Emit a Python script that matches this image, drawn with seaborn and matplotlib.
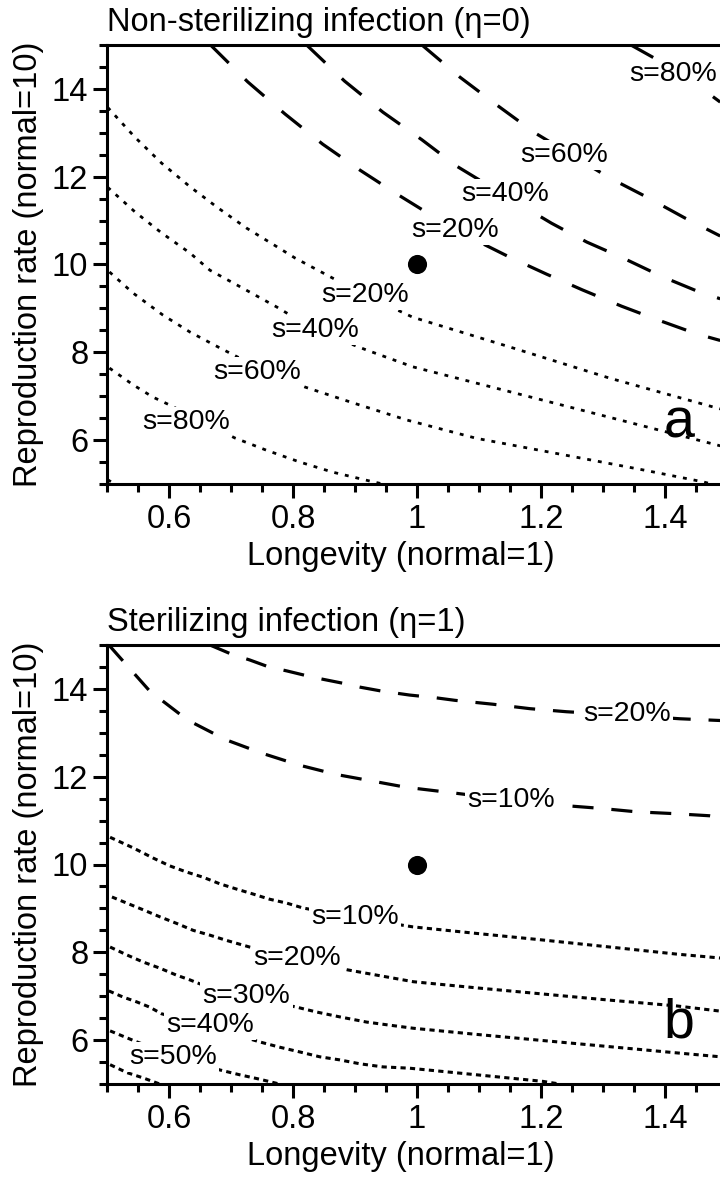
import matplotlib
matplotlib.use("Agg")
import matplotlib.pyplot as plt
import seaborn as sns
from matplotlib.ticker import FixedLocator, MultipleLocator

# ---------------- data ----------------
# Panel a: Non-sterilizing infection (eta=0)
a_dash20_x = [0.667, 0.727, 0.787, 0.848, 0.908, 0.967, 1.061, 1.149, 1.209, 1.267, 1.330, 1.388, 1.451, 1.489]
a_dash20_y = [15.00, 14.16, 13.43, 12.74, 12.15, 11.61, 10.79, 10.17, 9.78, 9.42, 9.05, 8.74, 8.42, 8.27]
a_dash40_x = [0.822, 0.883, 0.945, 1.008, 1.064, 1.141, 1.217, 1.274, 1.332, 1.396, 1.456, 1.489]
a_dash40_y = [15.00, 14.18, 13.47, 12.84, 12.24, 11.58, 10.94, 10.51, 10.15, 9.72, 9.37, 9.22]
a_dash60_x = [1.008, 1.069, 1.129, 1.190, 1.237, 1.311, 1.370, 1.432, 1.489]
a_dash60_y = [15.00, 14.27, 13.63, 13.00, 12.60, 11.97, 11.54, 11.06, 10.65]
a_dash80_x = [1.345, 1.383, 1.413, 1.469, 1.489]
a_dash80_y = [15.00, 14.70, 14.38, 13.91, 13.70]

a_dot20_x = [0.501, 0.545, 0.588, 0.634, 0.679, 0.725, 0.770, 0.803, 0.864, 0.916, 0.993, 1.150, 1.311, 1.489]
a_dot20_y = [13.58, 12.90, 12.31, 11.77, 11.29, 10.83, 10.44, 10.15, 9.69, 9.31, 8.80, 8.12, 7.41, 6.71]
a_dot40_x = [0.501, 0.545, 0.588, 0.634, 0.666, 0.719, 0.774, 0.835, 0.919, 0.993, 1.258, 1.489]
a_dot40_y = [11.76, 11.20, 10.72, 10.26, 9.87, 9.46, 9.03, 8.51, 8.05, 7.67, 6.71, 5.87]
a_dot60_x = [0.504, 0.542, 0.590, 0.634, 0.682, 0.711, 0.742, 0.819, 0.892, 0.983, 1.096, 1.257, 1.365, 1.461, 1.475]
a_dot60_y = [9.83, 9.35, 8.85, 8.46, 8.10, 7.89, 7.69, 7.21, 6.87, 6.46, 6.04, 5.61, 5.32, 5.05, 5.00]
a_dot80_x = [0.504, 0.542, 0.574, 0.601, 0.627, 0.706, 0.757, 0.811, 0.864, 0.929, 0.945]
a_dot80_y = [7.64, 7.26, 6.98, 6.80, 6.61, 6.05, 5.77, 5.50, 5.27, 5.05, 5.00]
a_dot100_x = [0.501, 0.514]
a_dot100_y = [5.10, 4.98]

a_dash_labels = ["s=20%", "s=40%", "s=60%", "s=80%"]
a_dash_lab_x = [1.061, 1.142, 1.237, 1.413]
a_dash_lab_y = [10.79, 11.61, 12.49, 14.34]
a_dot_labels = ["s=20%", "s=40%", "s=60%", "s=80%"]
a_dot_lab_x = [0.916, 0.835, 0.742, 0.627]
a_dot_lab_y = [9.31, 8.51, 7.55, 6.41]

# Panel b: Sterilizing infection (eta=1)
b_dash10_x = [0.503, 0.518, 0.569, 0.630, 0.692, 0.751, 0.811, 0.870, 0.932, 0.982, 1.053, 1.151, 1.240, 1.295, 1.354, 1.413, 1.472, 1.489]
b_dash10_y = [15.00, 14.76, 13.95, 13.29, 12.84, 12.53, 12.26, 12.05, 11.89, 11.76, 11.64, 11.47, 11.34, 11.28, 11.20, 11.16, 11.11, 11.07]
b_dash20_x = [0.666, 0.701, 0.730, 0.761, 0.790, 0.822, 0.848, 0.880, 0.908, 0.943, 0.988, 1.029, 1.061, 1.123, 1.182, 1.241, 1.338, 1.424, 1.489]
b_dash20_y = [15.00, 14.79, 14.66, 14.50, 14.41, 14.30, 14.22, 14.13, 14.04, 13.95, 13.86, 13.80, 13.74, 13.65, 13.55, 13.48, 13.40, 13.32, 13.28]

b_dot10_x = [0.505, 0.542, 0.574, 0.601, 0.628, 0.655, 0.682, 0.709, 0.735, 0.762, 0.790, 0.816, 0.900, 0.993, 1.096, 1.203, 1.311, 1.418, 1.489]
b_dot10_y = [10.62, 10.38, 10.15, 9.97, 9.83, 9.71, 9.56, 9.44, 9.33, 9.21, 9.12, 9.01, 8.79, 8.58, 8.43, 8.28, 8.12, 7.96, 7.87]
b_dot20_x = [0.508, 0.532, 0.558, 0.585, 0.612, 0.639, 0.666, 0.693, 0.730, 0.806, 0.888, 0.935, 0.994, 1.096, 1.203, 1.311, 1.418, 1.489]
b_dot20_y = [9.26, 9.12, 8.97, 8.81, 8.66, 8.50, 8.39, 8.27, 8.12, 7.87, 7.60, 7.48, 7.33, 7.19, 7.05, 6.91, 6.78, 6.66]
b_dot30_x = [0.505, 0.532, 0.558, 0.585, 0.612, 0.634, 0.650, 0.725, 0.806, 0.838, 0.875, 0.919, 0.956, 0.994, 1.096, 1.203, 1.311, 1.418, 1.489]
b_dot30_y = [8.12, 7.94, 7.78, 7.64, 7.48, 7.37, 7.28, 7.00, 6.75, 6.64, 6.53, 6.41, 6.34, 6.27, 6.13, 5.99, 5.85, 5.71, 5.62]
b_dot40_x = [0.503, 0.526, 0.548, 0.569, 0.588, 0.666, 0.746, 0.778, 0.811, 0.843, 0.875, 0.908, 0.945, 0.988, 1.096, 1.203, 1.230]
b_dot40_y = [7.12, 6.98, 6.87, 6.75, 6.60, 6.30, 5.96, 5.84, 5.73, 5.62, 5.55, 5.46, 5.39, 5.36, 5.21, 5.06, 5.00]
b_dot50_x = [0.505, 0.529, 0.548, 0.606, 0.682, 0.714, 0.746, 0.778]
b_dot50_y = [6.21, 6.07, 5.96, 5.65, 5.32, 5.21, 5.11, 5.00]
b_dot60_x = [0.505, 0.532, 0.558, 0.585]
b_dot60_y = [5.44, 5.26, 5.14, 5.00]

b_dash_labels = ["s=20%", "s=10%"]
b_dash_lab_x = [1.338, 1.151]
b_dash_lab_y = [13.43, 11.47]
b_dot_labels = ["s=10%", "s=20%", "s=30%", "s=40%", "s=50%"]
b_dot_lab_x = [0.900, 0.806, 0.725, 0.666, 0.606]
b_dot_lab_y = [8.80, 7.88, 7.00, 6.34, 5.61]

normal_x = [1.0]
normal_y = [10.0]

x_ticks = [0.6, 0.8, 1.0, 1.2, 1.4]
x_tick_labels = ["0.6", "0.8", "1", "1.2", "1.4"]
y_ticks = [6, 8, 10, 12, 14]
y_tick_labels = ["6", "8", "10", "12", "14"]

titles = ["Non-sterilizing infection (\u03b7=0)", "Sterilizing infection (\u03b7=1)"]
panel_letters = ["a", "b"]
x_label = "Longevity (normal=1)"
y_label = "Reproduction rate (normal=10)"

# ---------------- style ----------------
sns.set_style("ticks")
plt.rcParams["font.family"] = ["Liberation Sans", "DejaVu Sans"]
for key in ["text.color", "axes.labelcolor", "xtick.color", "ytick.color", "axes.edgecolor"]:
    plt.rcParams[key] = "black"

W, H = 720, 1182
fig = plt.figure(figsize=(W / 100, H / 100), dpi=100)
left_px, right_px = 107, 720
axA = fig.add_axes([left_px / W, 1 - 484 / H, (right_px - left_px) / W, 439 / H])
axB = fig.add_axes([left_px / W, 1 - 1084 / H, (right_px - left_px) / W, 439 / H])

LW = 2.3
MAIN_FS = 23.5
LAB_FS = 20.5


def draw_line(ax, xs, ys, dashes, lw=LW):
    sns.lineplot(x=xs, y=ys, ax=ax, color="black", linewidth=lw,
                 sort=False, estimator=None, linestyle=(0, dashes))


def label(ax, xs, ys, texts):
    for x, y, t in zip(xs, ys, texts):
        ax.text(x, y, t, ha="center", va="center", fontsize=LAB_FS, zorder=5,
                color="black",
                bbox=dict(boxstyle="square,pad=0.08", fc="white", ec="none"))


# panel a
a_dash_pat = (8.0, 7.2)
a_dot_pat = (1.4, 2.5)
for xs, ys in [(a_dash20_x, a_dash20_y), (a_dash40_x, a_dash40_y),
               (a_dash60_x, a_dash60_y), (a_dash80_x, a_dash80_y)]:
    draw_line(axA, xs, ys, a_dash_pat)
for xs, ys in [(a_dot20_x, a_dot20_y), (a_dot40_x, a_dot40_y), (a_dot60_x, a_dot60_y),
               (a_dot80_x, a_dot80_y), (a_dot100_x, a_dot100_y)]:
    draw_line(axA, xs, ys, a_dot_pat, lw=2.0)
label(axA, a_dash_lab_x, a_dash_lab_y, a_dash_labels)
label(axA, a_dot_lab_x, a_dot_lab_y, a_dot_labels)

# panel b
b_dash_pat = (6.6, 5.6)
b_dot_pat = (1.7, 1.4)
for xs, ys in [(b_dash10_x, b_dash10_y), (b_dash20_x, b_dash20_y)]:
    draw_line(axB, xs, ys, b_dash_pat)
for xs, ys in [(b_dot10_x, b_dot10_y), (b_dot20_x, b_dot20_y), (b_dot30_x, b_dot30_y),
               (b_dot40_x, b_dot40_y), (b_dot50_x, b_dot50_y), (b_dot60_x, b_dot60_y)]:
    draw_line(axB, xs, ys, b_dot_pat, lw=2.2)
label(axB, b_dash_lab_x, b_dash_lab_y, b_dash_labels)
label(axB, b_dot_lab_x, b_dot_lab_y, b_dot_labels)

for ax, title, letter in zip([axA, axB], titles, panel_letters):
    sns.scatterplot(x=normal_x, y=normal_y, ax=ax, color="black", s=190,
                    linewidth=0, zorder=6)
    ax.set_xlim(0.5, 0.5 + (right_px - left_px) / 620)
    ax.set_ylim(5, 15)
    ax.xaxis.set_major_locator(FixedLocator(x_ticks))
    ax.set_xticklabels(x_tick_labels)
    ax.xaxis.set_minor_locator(MultipleLocator(0.05))
    ax.yaxis.set_major_locator(FixedLocator(y_ticks))
    ax.set_yticklabels(y_tick_labels)
    ax.yaxis.set_minor_locator(MultipleLocator(0.5))
    ax.tick_params(which="both", direction="out", width=2.2, colors="black",
                   labelcolor="black", top=False, right=False)
    ax.tick_params(axis="x", which="major", length=10, pad=4.5, labelsize=MAIN_FS)
    ax.tick_params(axis="y", which="major", length=10, pad=3.5, labelsize=MAIN_FS)
    ax.tick_params(which="minor", length=5.8)
    for side in ["left", "top", "bottom"]:
        ax.spines[side].set_linewidth(2.2)
        ax.spines[side].set_color("black")
    ax.spines["right"].set_visible(False)
    ax.set_xlabel(x_label, fontsize=MAIN_FS, color="black")
    ax.set_ylabel(y_label, fontsize=MAIN_FS, color="black")
    ax.xaxis.set_label_coords(0.4796, -0.13)
    ax.yaxis.set_label_coords(-0.1028, 0.5)
    ax.set_title(title, loc="left", pad=10, fontsize=MAIN_FS, color="black")
    ax.text(1.422, 6.05, letter, ha="center", va="baseline", fontsize=40,
            zorder=5, color="black")
    ax.grid(False)

fig.savefig("out.png", dpi=100)
